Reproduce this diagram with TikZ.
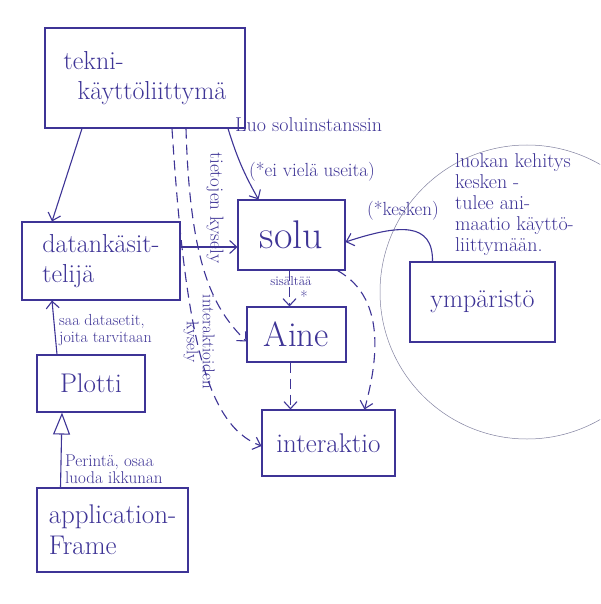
\documentclass[tikz,border=0pt]{standalone}
\usetikzlibrary{arrows.meta}
\definecolor{ink}{RGB}{62,52,150}
\definecolor{pencil}{RGB}{130,130,160}
\newcommand{\fs}[1]{\fontsize{#1}{1.15\dimexpr #1pt\relax}\selectfont}
\begin{document}
\begin{tikzpicture}[x=1pt,y=-1pt,
  box/.style={draw=ink,line width=1.1pt,text=ink,inner sep=2pt,align=left},
  arr/.style={draw=ink,line width=1.1pt,-{Straight Barb[length=7pt,width=13pt]}},
  dsh/.style={arr,dash pattern=on 10pt off 6pt},
  inh/.style={draw=ink,line width=1.1pt,-{Triangle[open,length=22pt,width=17pt]}},
  lbl/.style={text=ink,inner sep=1pt,align=left}]
\clip (0,0) rectangle (600,604);
\fill[white] (0,0) rectangle (600,604);
% environment circle
\draw[pencil,line width=0.5pt] (527,292) circle[radius=147pt];
% boxes
\node[box,minimum width=200pt,minimum height=100pt,font=\fs{26}] (tekn) at (145,78) {tekni-\\\hspace*{14pt}käyttöliittymä};
\node[box,minimum width=158pt,minimum height=78pt,font=\fs{26}] (datan) at (101,261) {datankäsit-\\telijä};
\node[box,minimum width=108pt,minimum height=57pt,font=\fs{27}] (plotti) at (91,383.5) {Plotti};
\node[box,minimum width=151pt,minimum height=84pt,font=\fs{27}] (app) at (112.5,530) {application-\\Frame};
\node[box,minimum width=107pt,minimum height=70pt,font=\fs{40}] (solu) at (291.5,235) {solu};
\node[box,minimum width=99pt,minimum height=55pt,font=\fs{35}] (aine) at (296.5,334.5) {Aine};
\node[box,minimum width=133pt,minimum height=66pt,font=\fs{27}] (inter) at (328.5,443) {interaktio};
\node[box,minimum width=145pt,minimum height=80pt,font=\fs{26}] (ymp) at (482.5,302) {ympäristö};
% connectors
\draw[arr] ([xshift=-63pt]tekn.south) -- ([xshift=-49pt]datan.north);
\draw[arr] ([xshift=83pt]tekn.south) to[bend right=6] ([xshift=-33pt]solu.north);
\draw[arr] ([yshift=14pt]datan.east) -- ([yshift=14pt]datan.east -| solu.west);
\draw[dsh] ([xshift=27pt]tekn.south) .. controls (185,330) and (205,425) .. ([yshift=-3pt]inter.west);
\draw[dsh] ([xshift=41pt]tekn.south) .. controls (190,270) and (215,310) .. ([yshift=-7pt]aine.west);
\draw[dsh] ([xshift=-2pt]solu.south) -- ([xshift=-2pt]solu.south |- aine.north);
\draw[dsh] ([xshift=-6pt]aine.south) -- ([xshift=-6pt]aine.south |- inter.north);
\draw[dsh] ([xshift=-8pt]solu.south east) .. controls (390,300) and (375,370) .. ([xshift=36pt]inter.north);
\draw[arr] ([xshift=-50pt]ymp.north) .. controls (433,222) and (400,224) .. ([yshift=-7pt]solu.east);
\draw[arr] ([xshift=-34pt]plotti.north) -- ([xshift=-49pt]datan.south);
\draw[inh] ([xshift=-52pt]app.north) -- ([xshift=-29pt]plotti.south);
% labels
\node[lbl,anchor=west,font=\fs{20}] (luo) at (234,125) {Luo soluinstanssin};
\node[lbl,anchor=west,font=\fs{19}] (ei) at (248,172) {(*ei vielä useita)};
\node[lbl,font=\fs{13}] (sis) at (291,281) {sisältää};
\node[lbl,font=\fs{16}] (star) at (304,297) {*};
\node[lbl,font=\fs{19}] (kes) at (403,211) {(*kesken)};
\node[lbl,anchor=north west,font=\fontsize{20}{21}\selectfont] (circ) at (454,152) {luokan kehitys\\kesken -\\tulee ani-\\maatio käyttö-\\liittymään.};
\node[lbl,rotate=-90,font=\fs{19}] (tiet) at (215,208) {tietojen kysely};
\node[lbl,rotate=-90,align=center,font=\fontsize{17}{16}\selectfont] (intk) at (199,342) {interaktioiden\\kysely};
\node[lbl,anchor=west,font=\fontsize{16}{17}\selectfont] (saa) at (58,330) {saa datasetit,\\joita tarvitaan};
\node[lbl,anchor=west,font=\fontsize{17}{17}\selectfont] (per) at (64,469) {Perintä, osaa\\luoda ikkunan};
\end{tikzpicture}
\end{document}
